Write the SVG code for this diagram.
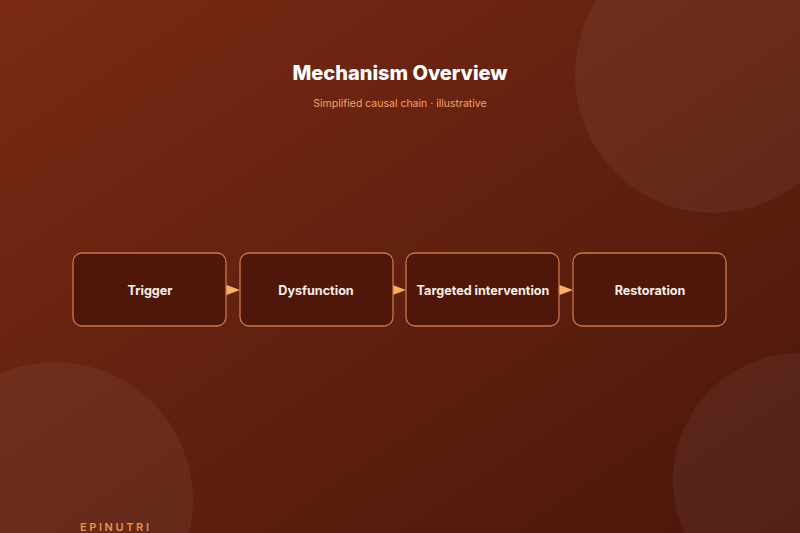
<svg xmlns="http://www.w3.org/2000/svg" width="800" height="533" viewBox="0 0 800 533">
<defs>
<linearGradient id="bg" x1="0" y1="0" x2="1" y2="1">
<stop offset="0" stop-color="#7a2a14"/>
<stop offset="1" stop-color="#4a170b"/>
</linearGradient>
</defs>
<style>
.box{fill:#4e170a;stroke:#c9774a;stroke-width:1.3}
.lbl{font-family:Inter,"Liberation Sans",sans-serif;font-weight:700;font-size:12.6px;fill:#fbeee6;text-anchor:middle}
.ah{fill:#f7b066}
</style>
<rect width="800" height="533" fill="url(#bg)"/>
<circle cx="713" cy="75" r="138" fill="#ffffff" fill-opacity="0.05"/>
<circle cx="55" cy="500" r="138" fill="#ffffff" fill-opacity="0.05"/>
<circle cx="800" cy="480" r="127" fill="#ffffff" fill-opacity="0.05"/>
<text x="400" y="80" font-family="Inter,'Liberation Sans',sans-serif" font-weight="800" font-size="20" fill="#ffffff" text-anchor="middle">Mechanism Overview</text>
<text x="400" y="107" font-family="Inter,'Liberation Sans',sans-serif" font-size="10.5" fill="#f2a46a" text-anchor="middle">Simplified causal chain · illustrative</text>
<g id="connectors">
<polygon class="ah" points="224,284 240,290 224,296"/>
<polygon class="ah" points="390,284 406,290 390,296"/>
<polygon class="ah" points="557,284 573,290 557,296"/>
</g>
<g id="n1"><rect class="box" x="73" y="253" width="153" height="73" rx="9"/><text class="lbl" x="150" y="295">Trigger</text></g>
<g id="n2"><rect class="box" x="240" y="253" width="153" height="73" rx="9"/><text class="lbl" x="316" y="295">Dysfunction</text></g>
<g id="n3"><rect class="box" x="406" y="253" width="153" height="73" rx="9"/><text class="lbl" x="483" y="295">Targeted intervention</text></g>
<g id="n4"><rect class="box" x="573" y="253" width="153" height="73" rx="9"/><text class="lbl" x="650" y="295">Restoration</text></g>
<text x="80" y="531" font-family="Inter,'Liberation Sans',sans-serif" font-weight="600" font-size="11" letter-spacing="2.6" fill="#e8944f">EPINUTRI</text>
</svg>
